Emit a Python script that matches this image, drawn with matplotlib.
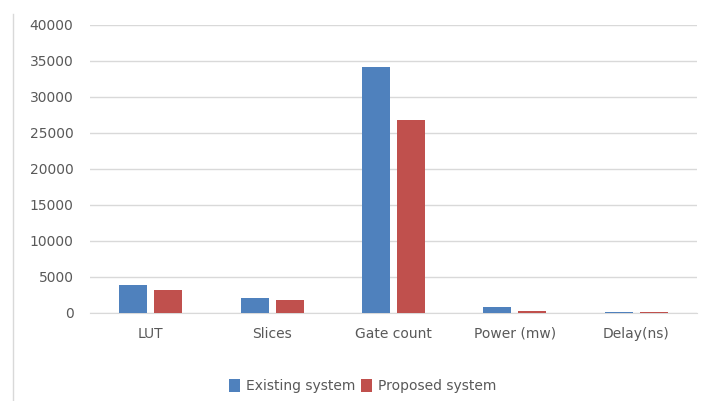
import matplotlib.pyplot as plt
import matplotlib.lines as mlines
import numpy as np

categories = ['LUT', 'Slices', 'Gate count', 'Power (mw)', 'Delay(ns)']
existing = [3850, 2030, 34200, 830, 200]
proposed = [3240, 1850, 26850, 220, 200]

blue = '#4F81BD'
red = '#C0504D'
grey_text = '#595959'

fig = plt.figure(figsize=(7.04, 4.01), dpi=100)
ax = fig.add_axes([0.128, 0.2195, 0.862, 0.7182])

x = np.arange(len(categories))
w = 0.23
ax.bar(x - 0.144, existing, w, color=blue, zorder=3)
ax.bar(x + 0.144, proposed, w, color=red, zorder=3)

ax.set_xlim(-0.5, len(categories) - 0.5)
ax.set_ylim(0, 40000)
ax.set_yticks(range(0, 40001, 5000))
ax.set_xticks(x)
ax.set_xticklabels(categories)
ax.yaxis.grid(True, color='#D9D9D9', linewidth=1, zorder=0)
for s in ['top', 'right', 'left']:
    ax.spines[s].set_visible(False)
ax.spines['bottom'].set_color('#D9D9D9')
ax.tick_params(axis='both', length=0, labelsize=10, colors=grey_text)
ax.tick_params(axis='y', pad=12)
ax.tick_params(axis='x', pad=10)

# legend
ax.legend(['Existing system', 'Proposed system'], loc='center',
          bbox_to_anchor=(0.449, -0.255), ncol=2, frameon=False,
          fontsize=10, handlelength=0.8, handleheight=1.0,
          handletextpad=0.45, columnspacing=0.4, labelcolor=grey_text)

# left border of chart area
fig.add_artist(mlines.Line2D([13 / 704, 13 / 704], [0, 1 - 14 / 401],
                             color='#D9D9D9', linewidth=1))

fig.savefig('out.png', dpi=100)
